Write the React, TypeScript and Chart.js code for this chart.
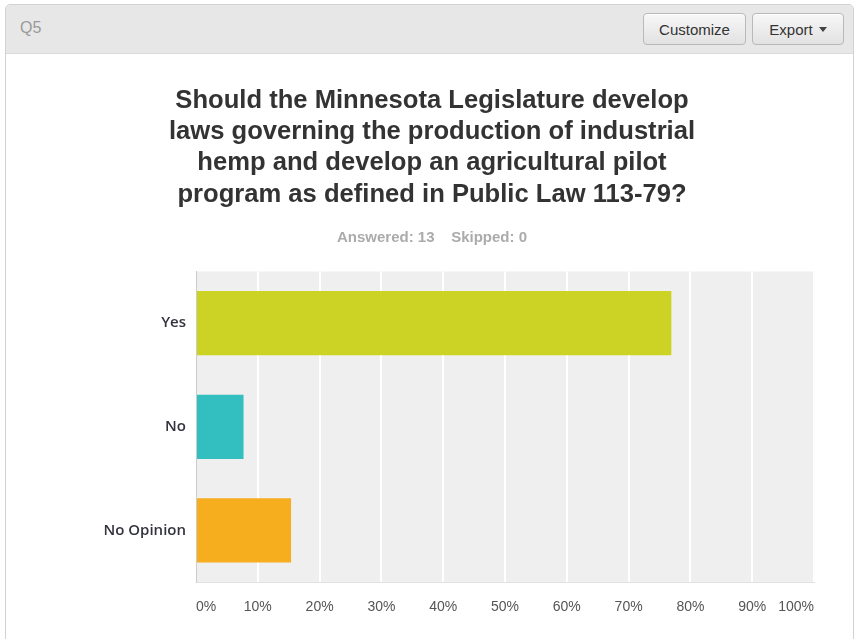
import React, { useEffect, useRef } from "react";
import { Chart, registerables } from "chart.js";

Chart.register(...registerables);

const categories = ["Yes", "No", "No Opinion"];
const percentages = [76.92, 7.69, 15.38];
const barColors = ["#cdd325", "#33bfbf", "#f6ae1f"];
const titleLines = [
  "Should the Minnesota Legislature develop",
  "laws governing the production of industrial",
  "hemp and develop an agricultural pilot",
  "program as defined in Public Law 113-79?",
];
const subtitleText = "Answered: 13    Skipped: 0";
const xTickMax = 100;
const xTickStep = 10;

const plotBg = {
  id: "plotBg",
  beforeDraw(chart: any) {
    const { ctx, chartArea } = chart;
    if (!chartArea) return;
    ctx.save();
    ctx.fillStyle = "#efefef";
    ctx.fillRect(chartArea.left, chartArea.top, chartArea.right - chartArea.left, chartArea.bottom - chartArea.top);
    ctx.restore();
  },
};

function ChartBox() {
  const ref = useRef<HTMLCanvasElement | null>(null);
  useEffect(() => {
    if (!ref.current) return;
    const chart = new Chart(ref.current, {
      type: "bar",
      data: {
        labels: categories,
        datasets: [
          {
            data: percentages,
            backgroundColor: barColors,
            borderWidth: 0,
            barPercentage: 0.62,
            categoryPercentage: 1,
          },
        ],
      },
      plugins: [plotBg],
      options: {
        indexAxis: "y",
        animation: false,
        responsive: false,
        maintainAspectRatio: false,
        layout: { padding: { left: 44, right: 39, top: 0, bottom: 6 } },
        plugins: {
          legend: { display: false },
          tooltip: { enabled: false },
          title: {
            display: true,
            text: titleLines,
            color: "#333333",
            font: { family: "'Liberation Sans', Arial, sans-serif", size: 25.6, weight: "bold", lineHeight: 1.225 },
            padding: { top: 32, bottom: 18 },
          },
          subtitle: {
            display: true,
            text: subtitleText,
            color: "#ababab",
            font: { family: "'Liberation Sans', Arial, sans-serif", size: 15, weight: "bold", lineHeight: 1.2 },
            padding: { top: 0, bottom: 25 },
          },
        },
        scales: {
          x: {
            min: 0,
            max: xTickMax,
            ticks: {
              stepSize: xTickStep,
              align: "inner",
              padding: 17,
              color: "#555555",
              font: { family: "'Liberation Sans', Arial, sans-serif", size: 14 },
              callback: (v: any) => v + "%",
            },
            grid: { color: "#ffffff", lineWidth: 2, drawTicks: false },
            border: { display: true, color: "#e2e2e2", width: 1 },
          },
          y: {
            afterFit: (scale: any) => {
              scale.width = 146;
            },
            ticks: {
              padding: 10,
              color: "#333340",
              font: { family: "'Open Sans', Arial, sans-serif", size: 15, weight: 600 },
            },
            grid: { display: false, drawTicks: false },
            border: { display: true, color: "#cccccc", width: 1 },
          },
        },
      },
    });
    return () => chart.destroy();
  }, []);
  return <canvas ref={ref} width={847} height={586} style={{ display: "block", width: 847, height: 586 }} />;
}

const btn: React.CSSProperties = {
  position: "absolute",
  top: 8,
  height: 32,
  boxSizing: "border-box",
  border: "1px solid #b9b9b9",
  borderRadius: 4,
  background: "linear-gradient(#f7f7f7, #e2e2e2)",
  color: "#333",
  font: "15px 'Liberation Sans', Arial, sans-serif",
  display: "flex",
  alignItems: "center",
  justifyContent: "center",
  boxShadow: "inset 0 1px 0 #fff",
};

export default function App() {
  return (
    <div style={{ position: "absolute", left: 0, top: 0, width: 858, height: 639, background: "#fff", overflow: "hidden" }}>
      <div
        style={{
          position: "absolute",
          left: 5,
          top: 4,
          width: 849,
          height: 660,
          boxSizing: "border-box",
          border: "1px solid #d2d2d2",
          borderRadius: "5px 5px 0 0",
          background: "#fff",
        }}
      >
        <div
          style={{
            position: "absolute",
            left: 0,
            top: 0,
            right: 0,
            height: 48,
            background: "#e7e7e7",
            borderBottom: "1px solid #dadada",
            borderRadius: "4px 4px 0 0",
          }}
        >
          <div style={{ position: "absolute", left: 14, top: 14, color: "#9a9a9a", font: "16px 'Liberation Sans', Arial, sans-serif" }}>Q5</div>
          <div style={{ ...btn, left: 637, width: 103 }}>Customize</div>
          <div style={{ ...btn, left: 746, width: 92 }}>
            Export
            <span
              style={{
                display: "inline-block",
                marginLeft: 6,
                width: 0,
                height: 0,
                borderLeft: "4px solid transparent",
                borderRight: "4px solid transparent",
                borderTop: "5px solid #444",
              }}
            />
          </div>
        </div>
        <div style={{ position: "absolute", left: 0, top: 48 }}>
          <ChartBox />
        </div>
      </div>
    </div>
  );
}
